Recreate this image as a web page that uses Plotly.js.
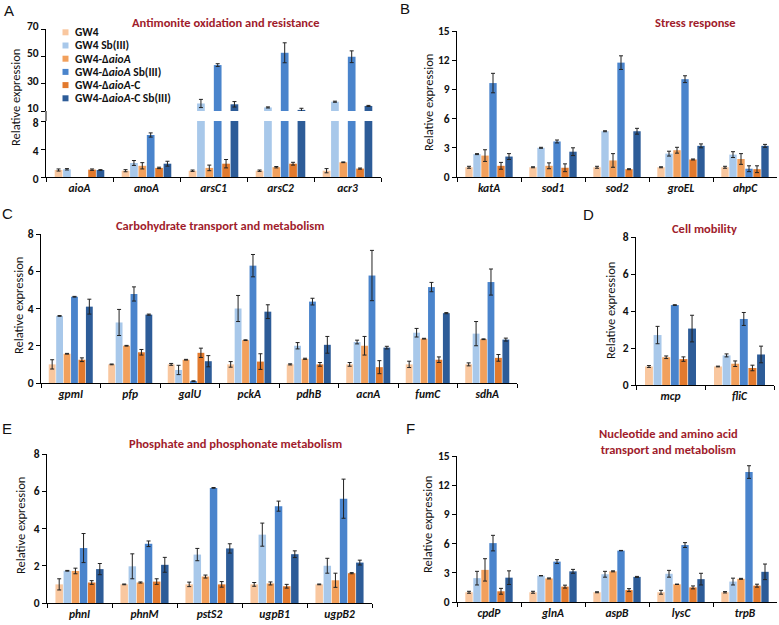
<!DOCTYPE html>
<html><head><meta charset="utf-8">
<script src="https://cdn.plot.ly/plotly-3.0.1.min.js"></script>
<style>body{margin:0;background:#fff}#chart{width:779px;height:625px}</style>
</head><body><div id="chart"></div>
<script>
// ---------- data ----------
const seriesNames = ['GW4', 'GW4 Sb(III)', 'GW4-Δ<i>aioA</i>', 'GW4-Δ<i>aioA</i> Sb(III)', 'GW4-Δ<i>aioA</i>-C', 'GW4-Δ<i>aioA</i>-C Sb(III)'];
const seriesColors = ['#F9C79F', '#A8C8EA', '#F2A05C', '#4A84CC', '#E27A2E', '#2D5C98'];

// A: Antimonite oxidation and resistance (rows = series, cols = genes)
const aGenes = ['aioA', 'anoA', 'arsC1', 'arsC2', 'acr3'];
const aValues = [
  [1.0, 0.9, 0.9, 0.9, 0.9],
  [1.1, 2.0, 15.5, 12.6, 16.8],
  [null, 1.6, 1.3, 1.4, 2.1],
  [null, 6.0, 43.6, 52.6, 49.7],
  [1.05, 1.3, 1.9, 1.9, 1.2],
  [1.0, 1.9, 14.9, 10.8, 13.7]
];
const aErrors = [
  [0.15, 0.15, 0.1, 0.1, 0.3],
  [0.1, 0.35, 3.0, 0.4, 0.4],
  [null, 0.45, 0.4, 0.1, 0.05],
  [null, 0.3, 1.0, 7.3, 4.3],
  [0.1, 0.1, 0.6, 0.2, 0.08],
  [0.05, 0.35, 2.0, 1.2, 0.4]
];

// B: Stress response
const bGenes = ['katA', 'sod1', 'sod2', 'groEL', 'ahpC'];
const bValues = [
  [1.0, 1.0, 1.0, 1.0, 1.0],
  [2.35, 3.0, 4.7, 2.4, 2.3],
  [2.2, 1.15, 1.7, 2.75, 1.85],
  [9.65, 3.65, 11.75, 10.05, 0.85],
  [1.15, 0.95, 0.8, 1.8, 0.8],
  [2.1, 2.6, 4.7, 3.2, 3.2]
];
const bErrors = [
  [0.1, 0.05, 0.1, 0.05, 0.1],
  [0.05, 0.05, 0.05, 0.25, 0.3],
  [0.6, 0.3, 0.7, 0.3, 0.55],
  [1.0, 0.15, 0.7, 0.35, 0.3],
  [0.35, 0.4, 0.05, 0.05, 0.35],
  [0.3, 0.4, 0.3, 0.2, 0.15]
];

// C: Carbohydrate transport and metabolism
const cGenes = ['gpmI', 'pfp', 'galU', 'pckA', 'pdhB', 'acnA', 'fumC', 'sdhA'];
const cValues = [
  [1.0, 1.0, 1.0, 1.0, 1.0, 1.0, 1.0, 1.0],
  [3.6, 3.25, 0.7, 4.0, 2.0, 2.2, 2.7, 2.65],
  [1.57, 2.0, 1.25, 2.3, 1.3, 2.0, 2.38, 2.35],
  [4.63, 4.78, 0.1, 6.3, 4.37, 5.77, 5.15, 5.42],
  [1.25, 1.65, 1.62, 1.15, 1.0, 0.85, 1.25, 1.35],
  [4.1, 3.67, 1.17, 3.83, 2.05, 1.9, 3.75, 2.33]
];
const cErrors = [
  [0.25, 0.02, 0.05, 0.15, 0.03, 0.1, 0.17, 0.08],
  [0.02, 0.7, 0.25, 0.7, 0.17, 0.1, 0.23, 0.65],
  [0.02, 0.02, 0.02, 0.02, 0.03, 0.5, 0.02, 0.02],
  [0.02, 0.38, 0.02, 0.6, 0.18, 1.35, 0.25, 0.7],
  [0.1, 0.15, 0.25, 0.42, 0.1, 0.35, 0.15, 0.18],
  [0.4, 0.03, 0.3, 0.37, 0.45, 0.07, 0.03, 0.08]
];

// D: Cell mobility
const dGenes = ['mcp', 'fliC'];
const dValues = [
  [1.0, 1.0],
  [2.7, 1.6],
  [1.5, 1.15],
  [4.32, 3.57],
  [1.4, 0.92],
  [3.05, 1.65]
];
const dErrors = [
  [0.05, 0.02],
  [0.47, 0.08],
  [0.07, 0.15],
  [0.02, 0.35],
  [0.12, 0.15],
  [0.72, 0.45]
];

// E: Phosphate and phosphonate metabolism
const eGenes = ['phnI', 'phnM', 'pstS2', 'ugpB1', 'ugpB2'];
const eValues = [
  [1.0, 1.0, 1.0, 1.0, 1.0],
  [1.73, 1.97, 2.6, 3.67, 2.0],
  [1.72, 1.1, 1.42, 1.05, 1.22],
  [2.95, 3.18, 6.18, 5.2, 5.6],
  [1.1, 1.15, 1.0, 0.9, 1.6],
  [1.82, 2.05, 2.93, 2.62, 2.17]
];
const eErrors = [
  [0.3, 0.02, 0.12, 0.1, 0.02],
  [0.02, 0.67, 0.33, 0.62, 0.4],
  [0.15, 0.03, 0.08, 0.08, 0.38],
  [0.78, 0.15, 0.02, 0.27, 1.05],
  [0.1, 0.15, 0.15, 0.1, 0.03],
  [0.3, 0.4, 0.25, 0.18, 0.13]
];

// F: Nucleotide and amino acid transport and metabolism
const fGenes = ['cpdP', 'glnA', 'aspB', 'lysC', 'trpB'];
const fValues = [
  [1.0, 1.0, 1.0, 1.0, 1.0],
  [2.45, 2.7, 2.85, 2.9, 2.1],
  [3.3, 2.42, 3.15, 1.82, 2.38],
  [6.05, 4.15, 5.28, 5.85, 13.35],
  [1.1, 1.58, 1.22, 1.5, 1.68],
  [2.5, 3.15, 2.58, 2.35, 3.1]
];
const fErrors = [
  [0.1, 0.1, 0.05, 0.2, 0.07],
  [0.7, 0.02, 0.3, 0.35, 0.35],
  [1.15, 0.05, 0.05, 0.02, 0.05],
  [0.8, 0.2, 0.02, 0.25, 0.65],
  [0.3, 0.15, 0.15, 0.15, 0.15],
  [0.7, 0.2, 0.05, 0.6, 0.8]
];

// ---------- layout helpers ----------
const W = 779, H = 625;
const fx = p => p / W;
const fy = p => 1 - p / H;
const FONT = "Carlito, Lato, 'Open Sans', sans-serif";
const TITLE_COLOR = '#A01C2C';

const traces = [];
function addBars(xid, yid, genes, values, errors) {
  values.forEach((vals, i) => {
    traces.push({
      type: 'bar', x: genes, y: vals, name: seriesNames[i],
      xaxis: xid, yaxis: yid, showlegend: false,
      marker: {color: seriesColors[i], line: {width: 0}},
      error_y: {type: 'data', array: errors[i], visible: true, color: '#222', thickness: 1, width: 2},
      hoverinfo: 'x+y+name'
    });
  });
}

addBars('x', 'y', aGenes, aValues, aErrors);
addBars('x', 'y2', aGenes, aValues, aErrors);
addBars('x2', 'y3', bGenes, bValues, bErrors);
addBars('x3', 'y4', cGenes, cValues, cErrors);
addBars('x4', 'y5', dGenes, dValues, dErrors);
addBars('x5', 'y6', eGenes, eValues, eErrors);
addBars('x6', 'y7', fGenes, fValues, fErrors);

function xAxis(x0, x1, anchor) {
  return {
    domain: [fx(x0), fx(x1)], anchor: anchor, type: 'category',
    showline: true, linecolor: '#000', linewidth: 1, mirror: false,
    ticks: 'outside', ticklen: 4, tickcolor: '#000', tickson: 'boundaries',
    showgrid: false, zeroline: false, fixedrange: true,
    tickfont: {family: FONT, size: 11.5, weight: 'bold', style: 'italic', color: '#111'}
  };
}
function yAxis(pyBottom, pyTop, anchor, range, dtick, tickvals) {
  const ax = {
    domain: [fy(pyBottom), fy(pyTop)], anchor: anchor, range: range,
    showline: true, linecolor: '#000', linewidth: 1,
    ticks: 'outside', ticklen: 4, tickcolor: '#000',
    showgrid: false, zeroline: false, fixedrange: true,
    tickfont: {family: FONT, size: 11.5, weight: 'bold', color: '#111'}
  };
  if (tickvals) { ax.tickmode = 'array'; ax.tickvals = tickvals; }
  else { ax.dtick = dtick; ax.tick0 = 0; }
  return ax;
}

const annotations = [];
function addText(text, px, py, opts) {
  annotations.push(Object.assign({
    text: text, xref: 'paper', yref: 'paper', x: fx(px), y: fy(py),
    showarrow: false, xanchor: 'center', yanchor: 'middle',
    font: {family: FONT, size: 12, color: '#111'}
  }, opts || {}));
}

// panel titles
const titleFont = {family: FONT, size: 12.5, weight: 'bold', color: TITLE_COLOR};
addText('Antimonite oxidation and resistance', 226, 23, {font: titleFont});
addText('Stress response', 695, 22, {font: titleFont});
addText('Carbohydrate transport and metabolism', 220, 226, {font: titleFont});
addText('Cell mobility', 704, 228, {font: titleFont});
addText('Phosphate and phosphonate metabolism', 235, 443, {font: titleFont});
addText('Nucleotide and amino acid<br>transport and metabolism', 668, 441, {font: titleFont});

// panel letters
const letterFont = {family: "'Liberation Sans', Arial, sans-serif", size: 15, color: '#111'};
addText('A', 9, 11, {font: letterFont});
addText('B', 405, 9, {font: letterFont});
addText('C', 7, 213, {font: letterFont});
addText('D', 588, 215, {font: letterFont});
addText('E', 7, 428, {font: letterFont});
addText('F', 410, 428, {font: letterFont});

// y axis titles
const yTitleFont = {family: FONT, size: 12.5, color: '#111'};
[[15, 98], [428, 103], [18, 306], [610, 311], [20, 526], [427, 524]].forEach(p => {
  addText('Relative expression', p[0], p[1], {textangle: -90, font: yTitleFont});
});

// manual legend for panel A
const shapes = [];
seriesNames.forEach((n, i) => {
  const cy = 32.3 + 13.2 * i;
  shapes.push({type: 'rect', xref: 'paper', yref: 'paper',
    x0: fx(62.5), x1: fx(68.5), y0: fy(cy + 3), y1: fy(cy - 3),
    fillcolor: seriesColors[i], line: {width: 0}});
  addText(n, 73, cy, {xanchor: 'left', font: {family: FONT, size: 11.5, weight: 'bold', color: '#111'}});
});
// connect broken y axis of panel A
shapes.push({type: 'line', xref: 'paper', yref: 'paper', x0: fx(46), x1: fx(46), y0: fy(121), y1: fy(111), line: {color: '#000', width: 1}});

const yA = yAxis(177, 121, 'x', [0, 8], 4);
yA.ticklabelshift = 2;
const yA2 = yAxis(111, 29, 'x', [10, 70], null, [10, 30, 50, 70]);
yA2.ticklabelshift = -3;

const layout = {
  width: W, height: H, autosize: false,
  margin: {l: 0, r: 0, t: 0, b: 0, pad: 0},
  paper_bgcolor: '#fff', plot_bgcolor: 'rgba(0,0,0,0)',
  barmode: 'group', bargap: 0.25, bargroupgap: 0.08,
  showlegend: false,
  font: {family: FONT},
  xaxis: xAxis(46, 381, 'y'),
  yaxis: yA,
  yaxis2: yA2,
  xaxis2: xAxis(457, 777, 'y3'),
  yaxis3: yAxis(177, 31, 'x2', [0, 15], 3),
  xaxis3: xAxis(41, 517, 'y4'),
  yaxis4: yAxis(383, 234, 'x3', [0, 8], 2),
  xaxis4: xAxis(636, 774, 'y5'),
  yaxis5: yAxis(385, 237, 'x4', [0, 8], 2),
  xaxis5: xAxis(47, 372, 'y6'),
  yaxis6: yAxis(603, 454, 'x5', [0, 8], 2),
  xaxis6: xAxis(457, 777, 'y7'),
  yaxis7: yAxis(602, 456, 'x6', [0, 15], 3),
  annotations: annotations,
  shapes: shapes
};

Plotly.newPlot('chart', traces, layout, {displayModeBar: false, staticPlot: true});
</script>
</body></html>
